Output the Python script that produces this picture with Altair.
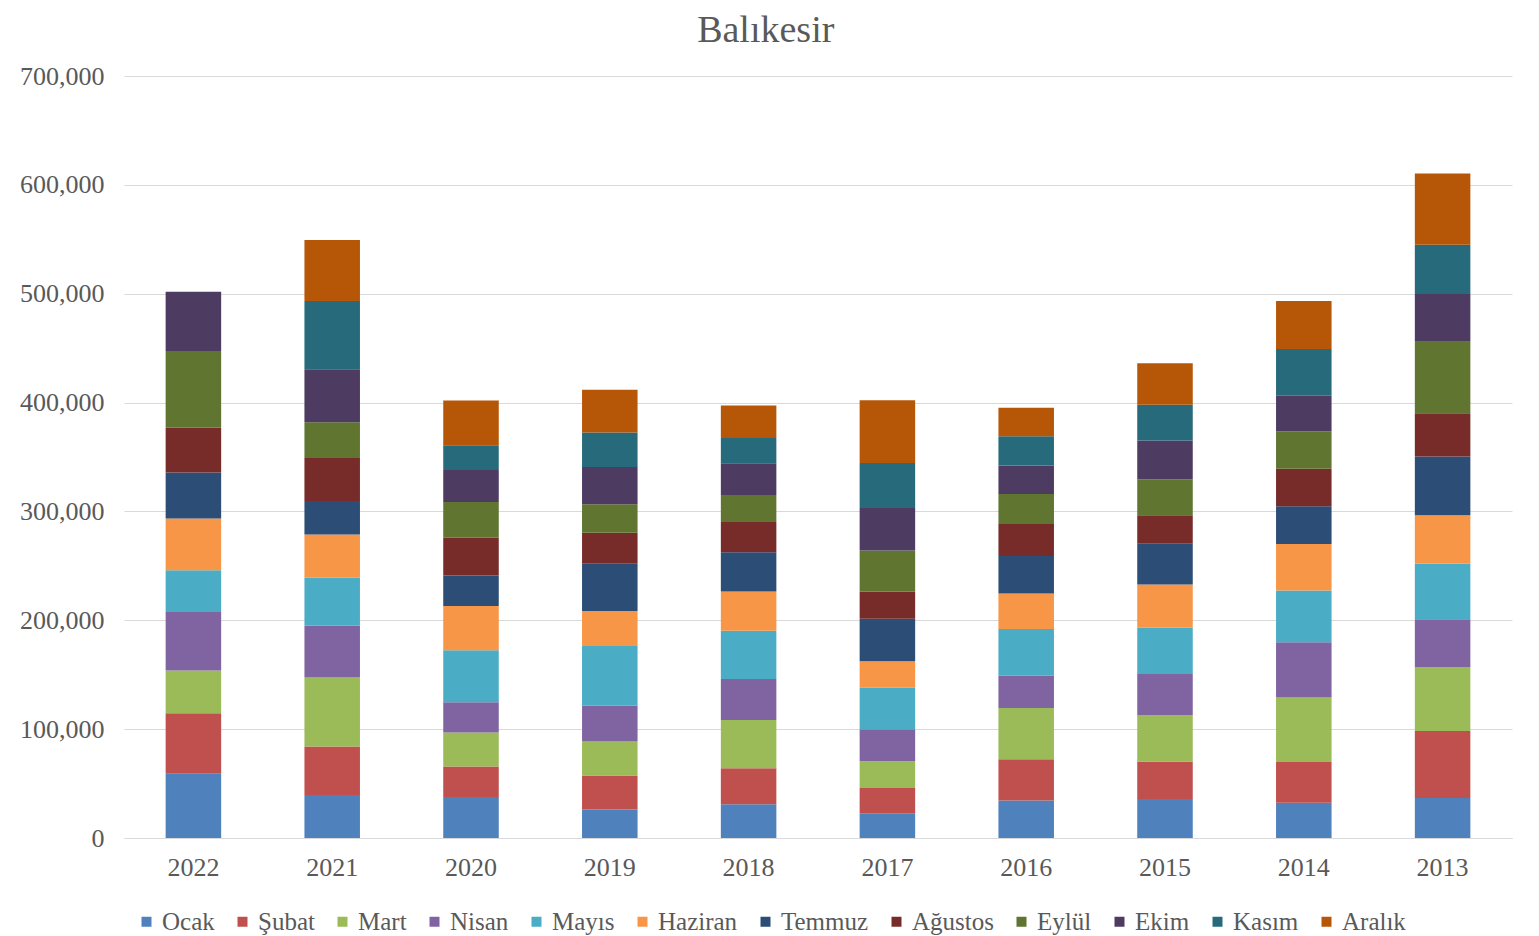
import altair as alt
import pandas as pd

years = ["2022", "2021", "2020", "2019", "2018", "2017", "2016", "2015", "2014", "2013"]
months = ["Ocak", "Şubat", "Mart", "Nisan", "Mayıs", "Haziran",
          "Temmuz", "Ağustos", "Eylül", "Ekim", "Kasım", "Aralık"]
colors = ["#4F81BD", "#C0504D", "#9BBB59", "#8064A2", "#4BACC6", "#F79646",
          "#2C4D75", "#772C2A", "#5F7530", "#4D3B62", "#276A7C", "#B65708"]

# values per month, in the order of `years`
ocak    = [59000, 39500, 37700, 26100, 31000, 22700, 34500, 35800, 32400, 36800]
subat   = [55500, 44500, 27900, 31300, 33100, 23300, 37800, 34500, 37500, 61500]
mart    = [39400, 63500, 31300, 31300, 44200, 24600, 47100, 42600, 59100, 58700]
nisan   = [53700, 47600, 27900, 32800, 37700, 29400, 29600, 37700, 50800, 44000]
mayis   = [38300, 44300, 47600, 55500, 44500, 38000, 42900, 42600, 47500, 51100]
haziran = [47600, 39400, 40800, 31600, 35900, 24300, 32600, 39700, 42800, 44300]
temmuz  = [42200, 30800, 27900, 43900, 36200, 39200, 34500, 37400, 34700, 54000]
agustos = [41200, 39400, 34700, 27900, 27600, 24900, 29400, 26200, 34400, 39900]
eylul   = [70500, 32900, 32800, 26300, 24800, 37700, 27700, 32900, 34300, 65600]
ekim    = [54400, 48700, 29400, 34100, 29200, 39000, 26200, 35800, 32800, 43900]
kasim   = [0,     62600, 22700, 31600, 23300, 41400, 26700, 32900, 42800, 45200]
aralik  = [0,     56200, 41100, 39300, 29700, 57600, 26200, 38000, 44300, 65500]

series = [ocak, subat, mart, nisan, mayis, haziran, temmuz, agustos, eylul, ekim, kasim, aralik]

rows = []
for mi, (m, vals) in enumerate(zip(months, series)):
    for y, v in zip(years, vals):
        if v > 0:
            rows.append({"Yıl": y, "Ay": m, "idx": mi, "Değer": v})
df = pd.DataFrame(rows)

FONT = "Liberation Serif"
GRAY = "#595959"

chart = alt.Chart(df).mark_bar().encode(
    x=alt.X("Yıl:N", sort=years,
            scale=alt.Scale(paddingInner=0.6, paddingOuter=0.3),
            axis=alt.Axis(title=None, labelAngle=0, ticks=False, domainColor="#d9d9d9",
                          labelFont=FONT, labelFontSize=26, labelColor=GRAY, labelPadding=16)),
    y=alt.Y("Değer:Q", stack="zero",
            scale=alt.Scale(domain=[0, 700000], nice=False),
            axis=alt.Axis(title=None, values=[0, 100000, 200000, 300000, 400000, 500000, 600000, 700000],
                          format=",d", domain=False, ticks=False, gridColor="#d9d9d9",
                          labelFont=FONT, labelFontSize=26, labelColor=GRAY, labelPadding=20)),
    color=alt.Color("Ay:N", sort=months,
                    scale=alt.Scale(domain=months, range=colors),
                    legend=alt.Legend(title=None, orient="none", direction="horizontal", columns=12,
                                      legendX=10, legendY=833,
                                      symbolType="square", symbolSize=100, symbolStrokeWidth=0,
                                      labelFont=FONT, labelFontSize=25, labelColor=GRAY,
                                      labelOffset=3, columnPadding=15)),
    order=alt.Order("idx:Q", sort="ascending"),
).properties(
    width=1388, height=762,
    title=alt.TitleParams("Balıkesir", font=FONT, fontSize=38, fontWeight="normal",
                          color=GRAY, anchor="middle", frame="bounds", offset=13),
    autosize=alt.AutoSizeParams(type="none"),
    padding={"left": 116, "top": 68, "right": 10, "bottom": 98},
    background="white",
).configure_view(stroke=None)

chart.save("out.html", embed_options={"renderer": "svg", "actions": False})
